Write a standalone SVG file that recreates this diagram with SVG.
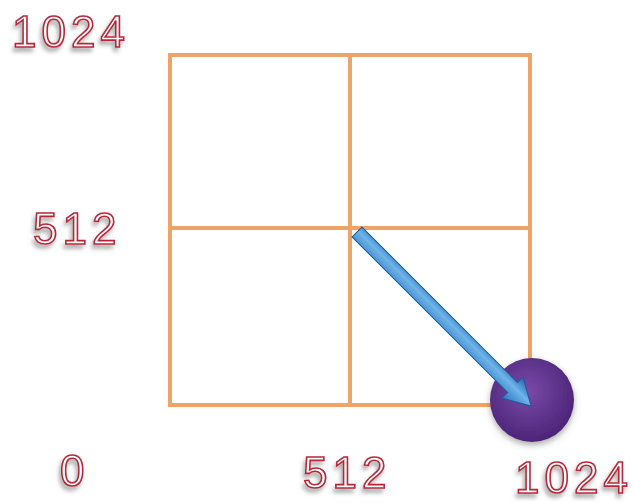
<svg xmlns="http://www.w3.org/2000/svg" width="635" height="503" viewBox="0 0 635 503">
<defs>
<style>
.lbl{font-family:"Liberation Sans",Arial,sans-serif;font-size:44px;fill:#ffffff;stroke:#b8283a;stroke-width:1.6;letter-spacing:5px;filter:url(#sh)}
.grid{stroke:#eea467;stroke-width:4;fill:none}
</style>
<filter id="sh" x="-20%" y="-20%" width="140%" height="160%">
<feDropShadow dx="-2" dy="4" stdDeviation="2" flood-color="#777" flood-opacity="0.6"/>
</filter>
<filter id="sh2" x="-30%" y="-30%" width="160%" height="160%">
<feDropShadow dx="0" dy="3" stdDeviation="3" flood-color="#555" flood-opacity="0.5"/>
</filter>
<radialGradient id="pg" cx="45%" cy="40%" r="60%">
<stop offset="0" stop-color="#7a4aa8"/>
<stop offset="1" stop-color="#4c2478"/>
</radialGradient>
<linearGradient id="bg" x1="0" y1="0" x2="0" y2="1">
<stop offset="0" stop-color="#1f5fa8"/>
<stop offset="0.45" stop-color="#6fb4ea"/>
<stop offset="1" stop-color="#2a78c0"/>
</linearGradient>
</defs>
<rect width="635" height="503" fill="#ffffff"/>
<g id="grid">
<rect class="grid" x="170" y="55" width="360" height="350"/>
<line class="grid" x1="350" y1="55" x2="350" y2="405"/>
<line class="grid" x1="170" y1="228" x2="530" y2="228"/>
</g>
<g id="target">
<circle cx="532" cy="400" r="42" fill="url(#pg)" filter="url(#sh2)"/>
</g>
<g id="connectors">
<g transform="translate(357,232) rotate(45)">
<path d="M0,-7 L220,-7 L220,-15 L246,0 L220,15 L220,7 L0,7 Z" fill="url(#bg)" stroke="#1d5a9a" stroke-width="1"/>
</g>
</g>
<g id="labels">
<text class="lbl" x="12" y="47">1024</text>
<text class="lbl" x="33" y="244">512</text>
<text class="lbl" x="60" y="486">0</text>
<text class="lbl" x="303" y="488">512</text>
<text class="lbl" x="515" y="493">1024</text>
</g>
</svg>
